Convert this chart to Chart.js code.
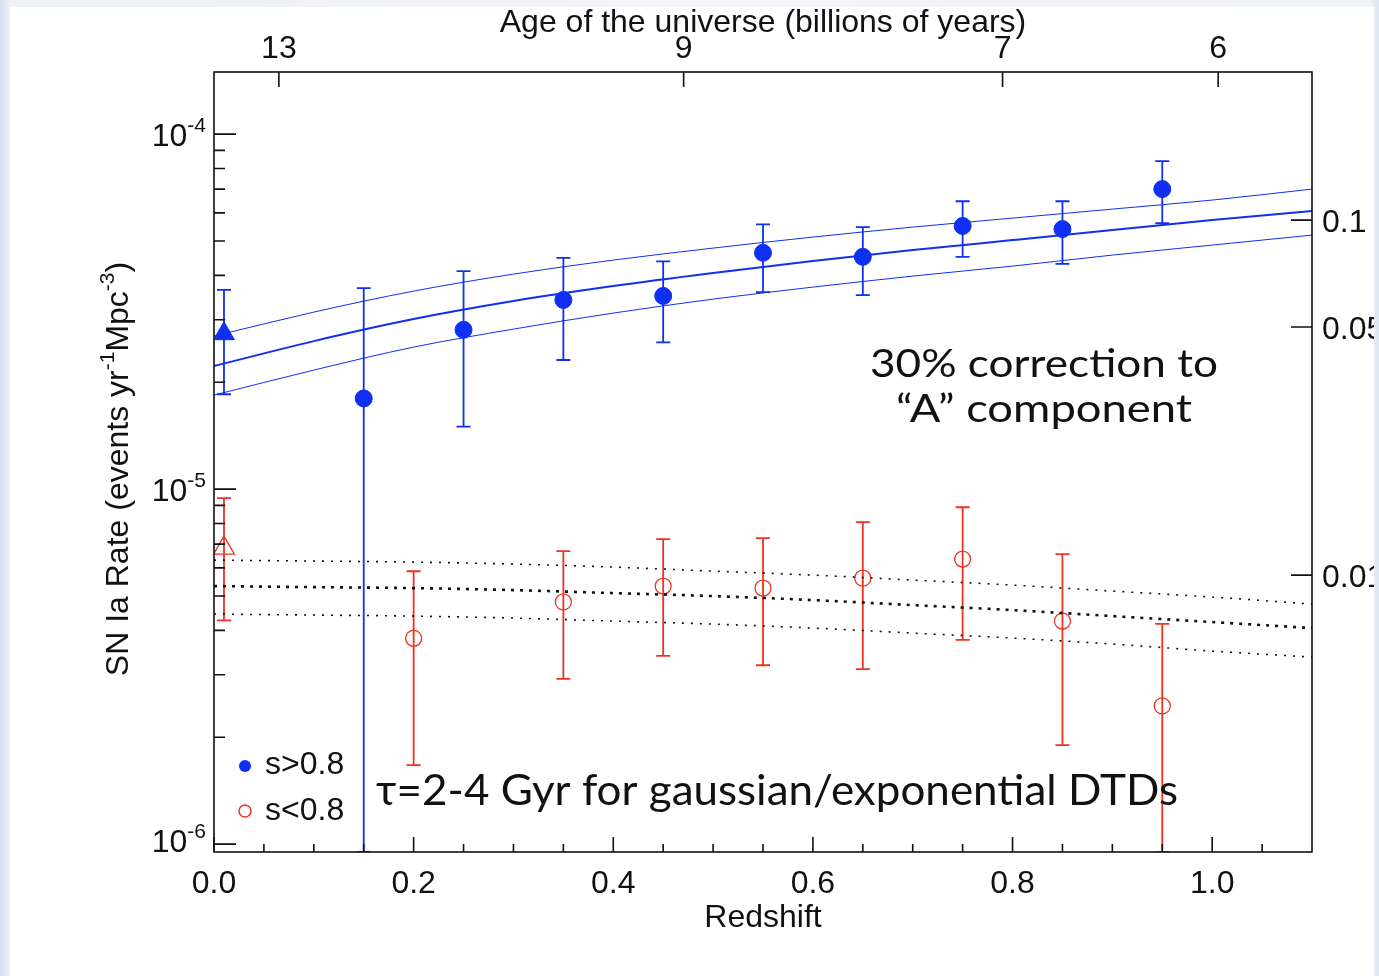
<!DOCTYPE html>
<html>
<head>
<meta charset="utf-8">
<script src="https://cdn.jsdelivr.net/npm/chart.js@4.4.1/dist/chart.umd.min.js"></script>
<style>
  html, body { margin: 0; padding: 0; }
  body {
    width: 1379px; height: 976px; overflow: hidden;
    background: linear-gradient(to right, #d3deee 0px, #edf1f7 10px, #f4f5f8 50%, #f0f3f8 1370px, #dbe4f0 1379px);
  }
  #panel { position: absolute; left: 10px; top: 7px; width: 1364px; height: 969px; background: #fff; }
</style>
</head>
<body>
<div id="panel"><canvas id="chartRate" width="1364" height="969"></canvas></div>
<script>
// SN Ia rate vs redshift – split by stretch (s>0.8 / s<0.8)

const BLUE = '#0f2ff2';
const RED = '#ee3322';

// measured points
const blueZ     = [0.01, 0.15, 0.25, 0.35, 0.45, 0.55, 0.65, 0.75, 0.85, 0.95];
const blueRate  = [2.74e-5, 1.80e-5, 2.81e-5, 3.41e-5, 3.50e-5, 4.63e-5, 4.51e-5, 5.51e-5, 5.40e-5, 7.00e-5];
const blueHi    = [3.64e-5, 3.68e-5, 4.11e-5, 4.48e-5, 4.38e-5, 5.57e-5, 5.47e-5, 6.47e-5, 6.47e-5, 8.39e-5];
const blueLo    = [1.85e-5, null, 1.50e-5, 2.31e-5, 2.59e-5, 3.59e-5, 3.52e-5, 4.51e-5, 4.31e-5, 5.61e-5];
const blueStyle = ['triangle', 'circle', 'circle', 'circle', 'circle', 'circle', 'circle', 'circle', 'circle', 'circle'];

const redZ     = [0.01, 0.2, 0.35, 0.45, 0.55, 0.65, 0.75, 0.85, 0.95];
const redRate  = [6.82e-6, 3.80e-6, 4.81e-6, 5.33e-6, 5.26e-6, 5.61e-6, 6.35e-6, 4.25e-6, 2.45e-6];
const redHi    = [9.43e-6, 5.87e-6, 6.69e-6, 7.23e-6, 7.28e-6, 8.07e-6, 8.89e-6, 6.56e-6, 4.17e-6];
const redLo    = [4.27e-6, 1.67e-6, 2.92e-6, 3.39e-6, 3.19e-6, 3.11e-6, 3.76e-6, 1.90e-6, null];
const redStyle = ['triangle', 'circle', 'circle', 'circle', 'circle', 'circle', 'circle', 'circle', 'circle'];

// model curves (tau = 2-4 Gyr)
const zGrid     = [0, 0.1, 0.2, 0.3, 0.4, 0.5, 0.6, 0.7, 0.8, 0.9, 1.0, 1.1];
const fitBlue   = [2.221e-5, 2.611e-5, 3.012e-5, 3.385e-5, 3.731e-5, 4.060e-5, 4.388e-5, 4.712e-5, 5.028e-5, 5.365e-5, 5.724e-5, 6.069e-5];
const fitBlueHi = [2.698e-5, 3.152e-5, 3.612e-5, 4.033e-5, 4.417e-5, 4.774e-5, 5.128e-5, 5.470e-5, 5.799e-5, 6.148e-5, 6.518e-5, 7.000e-5];
const fitBlueLo = [1.840e-5, 2.164e-5, 2.512e-5, 2.823e-5, 3.132e-5, 3.429e-5, 3.707e-5, 3.981e-5, 4.248e-5, 4.562e-5, 4.868e-5, 5.194e-5];
const fitRed    = [5.331e-6, 5.295e-6, 5.261e-6, 5.194e-6, 5.094e-6, 4.996e-6, 4.868e-6, 4.712e-6, 4.562e-6, 4.388e-6, 4.221e-6, 4.060e-6];
const fitRedHi  = [6.310e-6, 6.270e-6, 6.229e-6, 6.148e-6, 6.030e-6, 5.874e-6, 5.724e-6, 5.542e-6, 5.365e-6, 5.161e-6, 4.964e-6, 4.743e-6];
const fitRedLo  = [4.446e-6, 4.417e-6, 4.388e-6, 4.331e-6, 4.248e-6, 4.166e-6, 4.060e-6, 3.930e-6, 3.805e-6, 3.660e-6, 3.497e-6, 3.363e-6];

// axes
const zMin = 0, zMax = 1.1;
const rateMin = 9.5e-7, rateMax = 1.496e-4;
const zTicks = [0, 0.2, 0.4, 0.6, 0.8, 1.0];
const zMinorTicks = [0.05, 0.1, 0.15, 0.25, 0.3, 0.35, 0.45, 0.5, 0.55, 0.65, 0.7, 0.75, 0.85, 0.9, 0.95, 1.05];
const ageTickZ = [0.065, 0.4705, 0.79, 1.006];
const ageLabels = ['13', '9', '7', '6'];
const rateDecades = [1e-6, 1e-5, 1e-4];
const rateExp = ['-6', '-5', '-4'];
const rightFactor = 1747;            // right axis = rate * factor
const rightTicks = [0.1, 0.05, 0.01];
const rightLabels = ['0.1', '0.05', '0.01'];

const AXIS_FONT = '32px "Liberation Sans", Arial, sans-serif';
const SUP_FONT = '21px "Liberation Sans", Arial, sans-serif';
const NOTE_FONT = '"Lato", "Open Sans", sans-serif';

function pts(xs, ys) { return xs.map((x, i) => ({ x, y: ys[i] })); }

function curve(data, color, width, dash) {
  return {
    type: 'line', data: pts(zGrid, data), borderColor: color, borderWidth: width,
    borderDash: dash || [], pointRadius: 0, cubicInterpolationMode: 'monotone', fill: false
  };
}

// text with superscript parts: [[text, isSup], ...]
function partsWidth(ctx, parts) {
  let w = 0;
  parts.forEach(([t, sup]) => { ctx.font = sup ? SUP_FONT : AXIS_FONT; w += ctx.measureText(t).width; });
  return w;
}
function drawParts(ctx, parts, x, y) {
  let cx = x;
  parts.forEach(([t, sup]) => {
    ctx.font = sup ? SUP_FONT : AXIS_FONT;
    ctx.fillText(t, cx, sup ? y - 14 : y);
    cx += ctx.measureText(t).width;
  });
}

function fitText(ctx, text, font, x, y, width, align) {
  ctx.font = font;
  const w = ctx.measureText(text).width;
  const sx = width / w;
  ctx.save();
  ctx.translate(x, y);
  ctx.scale(sx, 1);
  ctx.textAlign = align;
  ctx.fillText(text, 0, 0);
  ctx.restore();
}

const errorBars = {
  id: 'errorBars',
  beforeDatasetsDraw(chart) {
    const { ctx, chartArea: a, scales: { x, y } } = chart;
    ctx.save();
    ctx.beginPath(); ctx.rect(a.left, a.top, a.right - a.left, a.bottom - a.top); ctx.clip();
    const draw = (zs, hi, lo, color, lw) => {
      ctx.strokeStyle = color; ctx.lineWidth = lw;
      zs.forEach((z, i) => {
        const px = x.getPixelForValue(z);
        const top = y.getPixelForValue(hi[i]);
        const bot = lo[i] == null ? a.bottom : y.getPixelForValue(lo[i]);
        ctx.beginPath();
        ctx.moveTo(px, top); ctx.lineTo(px, bot);
        ctx.moveTo(px - 7, top); ctx.lineTo(px + 7, top);
        ctx.moveTo(px - 7, bot); ctx.lineTo(px + 7, bot);
        ctx.stroke();
      });
    };
    draw(blueZ, blueHi, blueLo, BLUE, 1.8);
    draw(redZ, redHi, redLo, RED, 1.8);
    ctx.restore();
  }
};

const frame = {
  id: 'frame',
  afterDatasetsDraw(chart) {
    const { ctx, chartArea: a, scales: { x, y, y2 } } = chart;
    ctx.save();
    ctx.strokeStyle = '#111'; ctx.fillStyle = '#111'; ctx.lineWidth = 1.6;
    ctx.strokeRect(a.left, a.top, a.right - a.left, a.bottom - a.top);

    ctx.beginPath();
    // bottom ticks (inward)
    zTicks.forEach(v => { const p = x.getPixelForValue(v); ctx.moveTo(p, a.bottom); ctx.lineTo(p, a.bottom - 15); });
    zMinorTicks.forEach(v => { const p = x.getPixelForValue(v); ctx.moveTo(p, a.bottom); ctx.lineTo(p, a.bottom - 8); });
    // top age ticks
    ageTickZ.forEach(v => { const p = x.getPixelForValue(v); ctx.moveTo(p, a.top); ctx.lineTo(p, a.top + 15); });
    // left ticks, decades + minor
    rateDecades.forEach(d => {
      const p = y.getPixelForValue(d); ctx.moveTo(a.left, p); ctx.lineTo(a.left + 22, p);
      for (let m = 2; m <= 9; m++) {
        const v = d * m;
        if (v > rateMax) break;
        const q = y.getPixelForValue(v); ctx.moveTo(a.left, q); ctx.lineTo(a.left + 11, q);
      }
    });
    // right ticks
    rightTicks.forEach(v => { const p = y2.getPixelForValue(v); ctx.moveTo(a.right, p); ctx.lineTo(a.right - 21, p); });
    ctx.stroke();

    ctx.textBaseline = 'alphabetic';
    // bottom labels
    ctx.font = AXIS_FONT; ctx.textAlign = 'center';
    zTicks.forEach(v => ctx.fillText(v.toFixed(1), x.getPixelForValue(v), a.bottom + 41));
    ctx.fillText('Redshift', (a.left + a.right) / 2, a.bottom + 75);
    // top labels
    ageTickZ.forEach((v, i) => ctx.fillText(ageLabels[i], x.getPixelForValue(v), a.top - 14));
    ctx.fillText('Age of the universe (billions of years)', (a.left + a.right) / 2, a.top - 40);
    // right labels
    ctx.textAlign = 'left';
    rightTicks.forEach((v, i) => ctx.fillText(rightLabels[i], a.right + 10, y2.getPixelForValue(v) + 12));
    // left labels 10^n
    rateDecades.forEach((d, i) => {
      const parts = [['10', false], [rateExp[i], true]];
      const w = partsWidth(ctx, parts);
      const base = Math.min(y.getPixelForValue(d) + 12, a.bottom);
      drawParts(ctx, parts, a.left - 8 - w, base);
    });
    // y title
    const title = [['SN Ia Rate (events yr', false], ['-1', true], ['Mpc', false], ['-3', true], [')', false]];
    ctx.save();
    ctx.translate(a.left - 86, (a.top + a.bottom) / 2 + 7);
    ctx.rotate(-Math.PI / 2);
    drawParts(ctx, title, -partsWidth(ctx, title) / 2, 0);
    ctx.restore();

    // legend
    ctx.font = AXIS_FONT;
    ctx.fillStyle = BLUE;
    ctx.beginPath(); ctx.arc(a.left + 31, a.bottom - 86, 6, 0, Math.PI * 2); ctx.fill();
    ctx.strokeStyle = RED; ctx.lineWidth = 1.5;
    ctx.beginPath(); ctx.arc(a.left + 31, a.bottom - 41, 6, 0, Math.PI * 2); ctx.stroke();
    ctx.fillStyle = '#111';
    ctx.fillText('s>0.8', a.left + 51, a.bottom - 78);
    ctx.fillText('s<0.8', a.left + 51, a.bottom - 32);

    // annotations
    fitText(ctx, '30% correction to', '38px ' + NOTE_FONT, a.left + 830, a.top + 305, 348, 'center');
    fitText(ctx, '\u201cA\u201d component', '38px ' + NOTE_FONT, a.left + 830, a.top + 350, 296, 'center');
    fitText(ctx, '\u03c4=2-4 Gyr for gaussian/exponential DTDs', '43px ' + NOTE_FONT, a.left + 162, a.top + 733, 802, 'left');
    ctx.restore();
  }
};

new Chart(document.getElementById('chartRate'), {
  type: 'scatter',
  data: {
    datasets: [
      curve(fitBlueHi, BLUE, 1),
      curve(fitBlueLo, BLUE, 1),
      curve(fitBlue, BLUE, 2),
      curve(fitRedHi, '#111', 1.6, [2, 7]),
      curve(fitRedLo, '#111', 1.6, [2, 7]),
      curve(fitRed, '#111', 2.6, [3, 6]),
      {
        label: 's>0.8', data: pts(blueZ, blueRate), pointStyle: blueStyle,
        pointRadius: blueZ.map((_, i) => blueStyle[i] === 'triangle' ? 12 : 8.5),
        backgroundColor: BLUE, borderColor: BLUE, borderWidth: 1
      },
      {
        label: 's<0.8', data: pts(redZ, redRate), pointStyle: redStyle,
        pointRadius: redZ.map((_, i) => redStyle[i] === 'triangle' ? 12 : 8),
        backgroundColor: 'rgba(0,0,0,0)', borderColor: RED, borderWidth: 1.3
      }
    ]
  },
  options: {
    responsive: false,
    animation: false,
    layout: { padding: { left: 204, right: 62, top: 65, bottom: 124 } },
    plugins: { legend: { display: false }, tooltip: { enabled: false } },
    scales: {
      x: { type: 'linear', min: zMin, max: zMax, display: false },
      y: { type: 'logarithmic', min: rateMin, max: rateMax, display: false },
      y2: { type: 'logarithmic', position: 'right', min: rateMin * rightFactor, max: rateMax * rightFactor, display: false }
    }
  },
  plugins: [errorBars, frame]
});
</script>
</body>
</html>
